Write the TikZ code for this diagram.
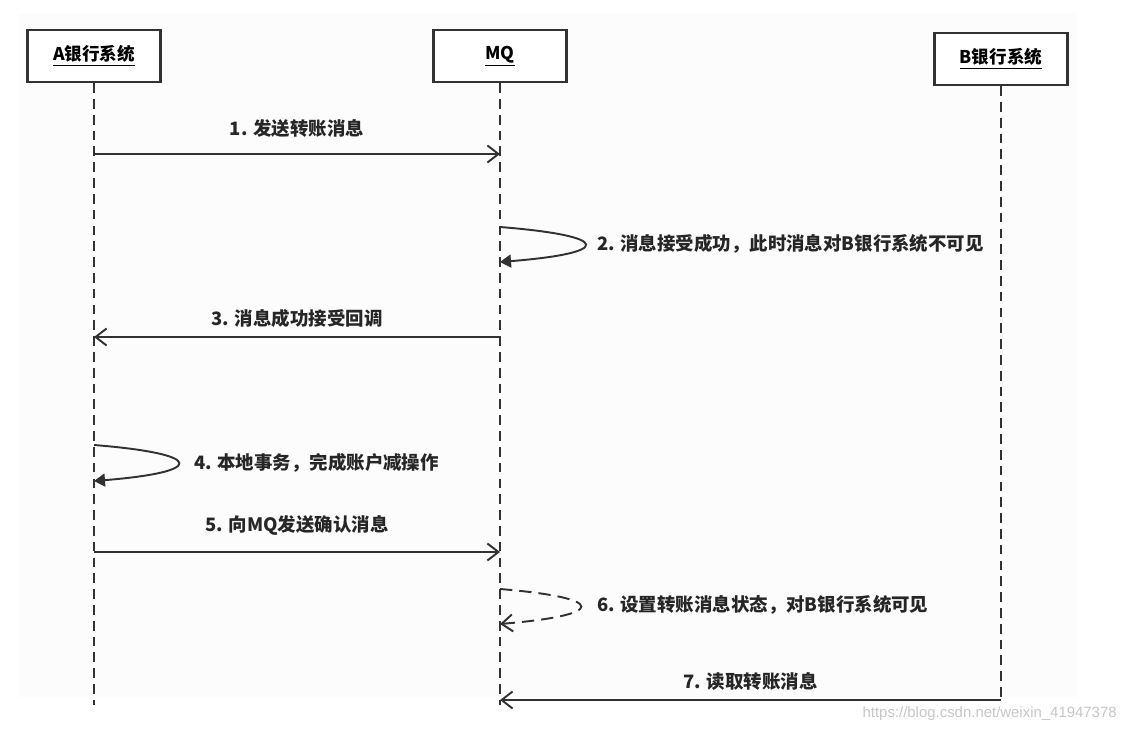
\documentclass[tikz,border=0pt]{standalone}
\usepackage{fontspec}
\setmainfont{Liberation Serif}
\newfontfamily\cjk{Noto Sans CJK SC}
\newfontfamily\marca{Liberation Sans}
\usetikzlibrary{arrows.meta,positioning}
\definecolor{linea}{RGB}{50,50,50}
\definecolor{fondo}{RGB}{252,252,252}

\begin{document}
\begin{tikzpicture}[x=0.02cm, y=-0.02cm,
    actor/.style={rectangle, draw=linea, line width=1.4pt, fill=white,
                  minimum width=2.66cm, minimum height=1.04cm,
                  font=\cjk\bfseries\fontsize{10}{12}\selectfont},
    lifeline/.style={dash pattern=on 5.5pt off 3.5pt, line width=1.4pt, color=linea},
    msg/.style={-{Straight Barb[length=2.2mm,width=3.4mm]}, line width=1.1pt, color=linea},
    selfmsg/.style={-{Triangle[length=2.2mm,width=2.6mm]}, line width=1.1pt, color=linea},
    msgtext/.style={font=\cjk\bfseries\fontsize{10.5}{12}\selectfont, text=black!85, inner sep=1pt}
  ]
    \useasboundingbox (0,0) rectangle (1125,733);
    \fill[fondo] (18,14) rectangle (1077,697);

    % participantes
    \node[actor] (bancoA) at (94,56) {\underline{A银行系统}};
    \node[actor] (mq) at (500,56) {\underline{MQ}};
    \node[actor] (bancoB) at (1001,59) {\underline{B银行系统}};

    \coordinate (finA) at (94,705);
    \coordinate (finMQ) at (500,705);
    \coordinate (finB) at (1001,700);
    \draw[lifeline] (bancoA.south) -- (finA);
    \draw[lifeline] (mq.south) -- (finMQ);
    \draw[lifeline] (bancoB.south) -- (finB);

    % 1
    \coordinate (a1) at (94,154);
    \coordinate (m1) at (500,154);
    \draw[msg] (a1) -- node[msgtext, above=8pt] (txt1) {1. 发送转账消息} (m1);

    % 2
    \coordinate (m2a) at (500,227);
    \coordinate (m2b) at (500,262);
    \draw[selfmsg] (m2a) .. controls (613,236) and (613,253) .. (m2b);
    \node[msgtext, anchor=west] (txt2) at (595,244) {2. 消息接受成功，此时消息对B银行系统不可见};

    % 3
    \coordinate (m3) at (500,337);
    \coordinate (a3) at (94,337);
    \draw[msg] (m3) -- node[msgtext, above=4pt] (txt3) {3. 消息成功接受回调} (a3);

    % 4
    \coordinate (a4a) at (94,445);
    \coordinate (a4b) at (94,481);
    \draw[selfmsg] (a4a) .. controls (206,454) and (206,472) .. (a4b);
    \node[msgtext, anchor=west] (txt4) at (192,463) {4. 本地事务，完成账户减操作};

    % 5
    \coordinate (a5) at (94,552);
    \coordinate (m5) at (500,552);
    \draw[msg] (a5) -- node[msgtext, above=8pt] (txt5) {5. 向MQ发送确认消息} (m5);

    % 6
    \coordinate (m6a) at (500,589);
    \coordinate (m6b) at (500,624);
    \draw[msg, dash pattern=on 7pt off 4pt] (m6a) .. controls (608,598) and (608,615) .. (m6b);
    \node[msgtext, anchor=west] (txt6) at (595,605) {6. 设置转账消息状态，对B银行系统可见};

    % 7
    \coordinate (b7) at (1001,700);
    \coordinate (m7) at (500,700);
    \draw[msg] (b7) -- node[msgtext, above=4pt] (txt7) {7. 读取转账消息} (m7);

    \node[font=\marca\fontsize{8.5}{10}\selectfont, text=gray!45, anchor=east, inner sep=0pt]
      (marca) at (1117,714) {https://blog.csdn.net/weixin\_41947378};
\end{tikzpicture}
\end{document}
